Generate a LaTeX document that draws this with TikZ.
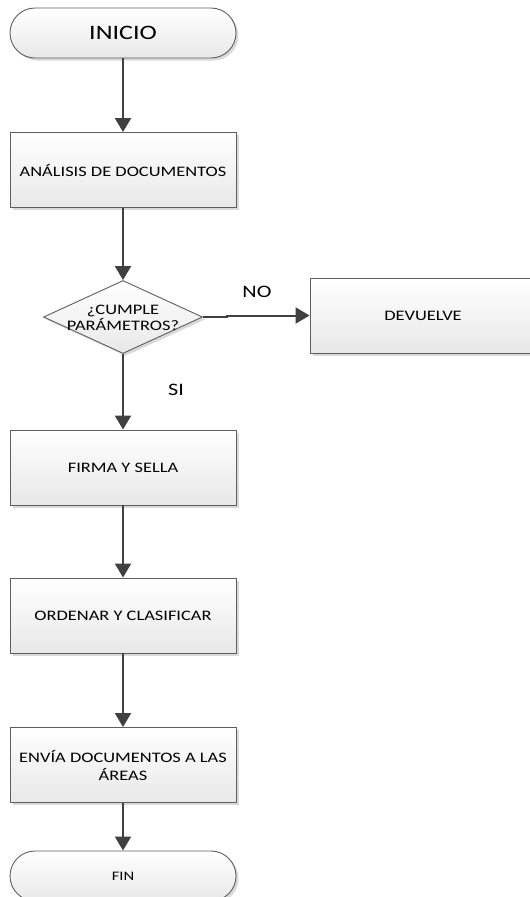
\documentclass[tikz,border=0pt]{standalone}
\usepackage{fontspec}
\setmainfont{Carlito}[FakeStretch=1.27]
\usetikzlibrary{shapes.geometric,shadows,arrows.meta}

\definecolor{edge}{HTML}{5E5E5E}
\definecolor{wire}{HTML}{404040}
\definecolor{shade}{HTML}{D9D9D9}

\tikzset{
  boxfill/.style={top color=white, bottom color=black!9, draw=edge, line width=0.9pt},
  boxshadow/.style={drop shadow={shadow xshift=2.5pt, shadow yshift=-2.5pt, fill=shade, opacity=1}},
  stepbox/.style={boxfill, boxshadow, rectangle, minimum width=226pt, minimum height=75pt,
    inner sep=0pt, align=center, font=\fontsize{14.5}{18}\selectfont},
  term/.style={boxfill, boxshadow, rectangle, rounded corners=25pt, minimum width=226pt,
    minimum height=50pt, inner sep=0pt, align=center},
  decision/.style={boxfill, boxshadow, diamond, minimum width=159pt, minimum height=73pt,
    inner sep=0pt},
  flow/.style={draw=wire, line width=2pt, -{Triangle[length=14pt, width=16pt]}},
  tag/.style={font=\fontsize{17.5}{20}\selectfont},
}

\begin{document}
\begin{tikzpicture}[x=1pt, y=-1pt]
  \useasboundingbox (0,0) rectangle (530,897);

  % process column
  \node[term, font=\fontsize{20.5}{24}\selectfont] (inicio) at (123,33) {INICIO};
  \node[stepbox] (analisis) at (123,170) {ANÁLISIS DE DOCUMENTOS};
  \node[decision] (cumple) at (123,317) {};
  \node[align=center, inner sep=0pt, font=\fontsize{14.5}{16}\selectfont] (cumpletxt) at (123,318) {¿CUMPLE\\PARÁMETROS?};
  \node[stepbox] (firma) at (123,467.5) {FIRMA Y SELLA};
  \node[stepbox] (ordenar) at (123,615.5) {ORDENAR Y CLASIFICAR};
  \node[stepbox] (envia) at (123,765) {ENVÍA DOCUMENTOS A LAS\\ÁREAS};
  \node[term, font=\fontsize{13}{16}\selectfont] (fin) at (123,876) {FIN};

  % rejected branch
  \node[stepbox] (devuelve) at (423,316) {DEVUELVE};

  % branch labels
  \node[tag] (no) at (257,292) {NO};
  \node[tag] (si) at (176,390) {SI};

  % connectors
  \draw[flow] (inicio) -- (analisis);
  \draw[flow] (analisis) -- (cumple.north);
  \draw[flow] (cumple.south) -- (firma);
  \draw[flow] (firma) -- (ordenar);
  \draw[flow] (ordenar) -- (envia);
  \draw[flow] (envia) -- (fin);
  \coordinate (jog) at (227,317);
  \draw[flow] (cumple.east) -- (jog) -- ++(0,-1.5) -- (devuelve.west |- 0,315.5);
\end{tikzpicture}
\end{document}
